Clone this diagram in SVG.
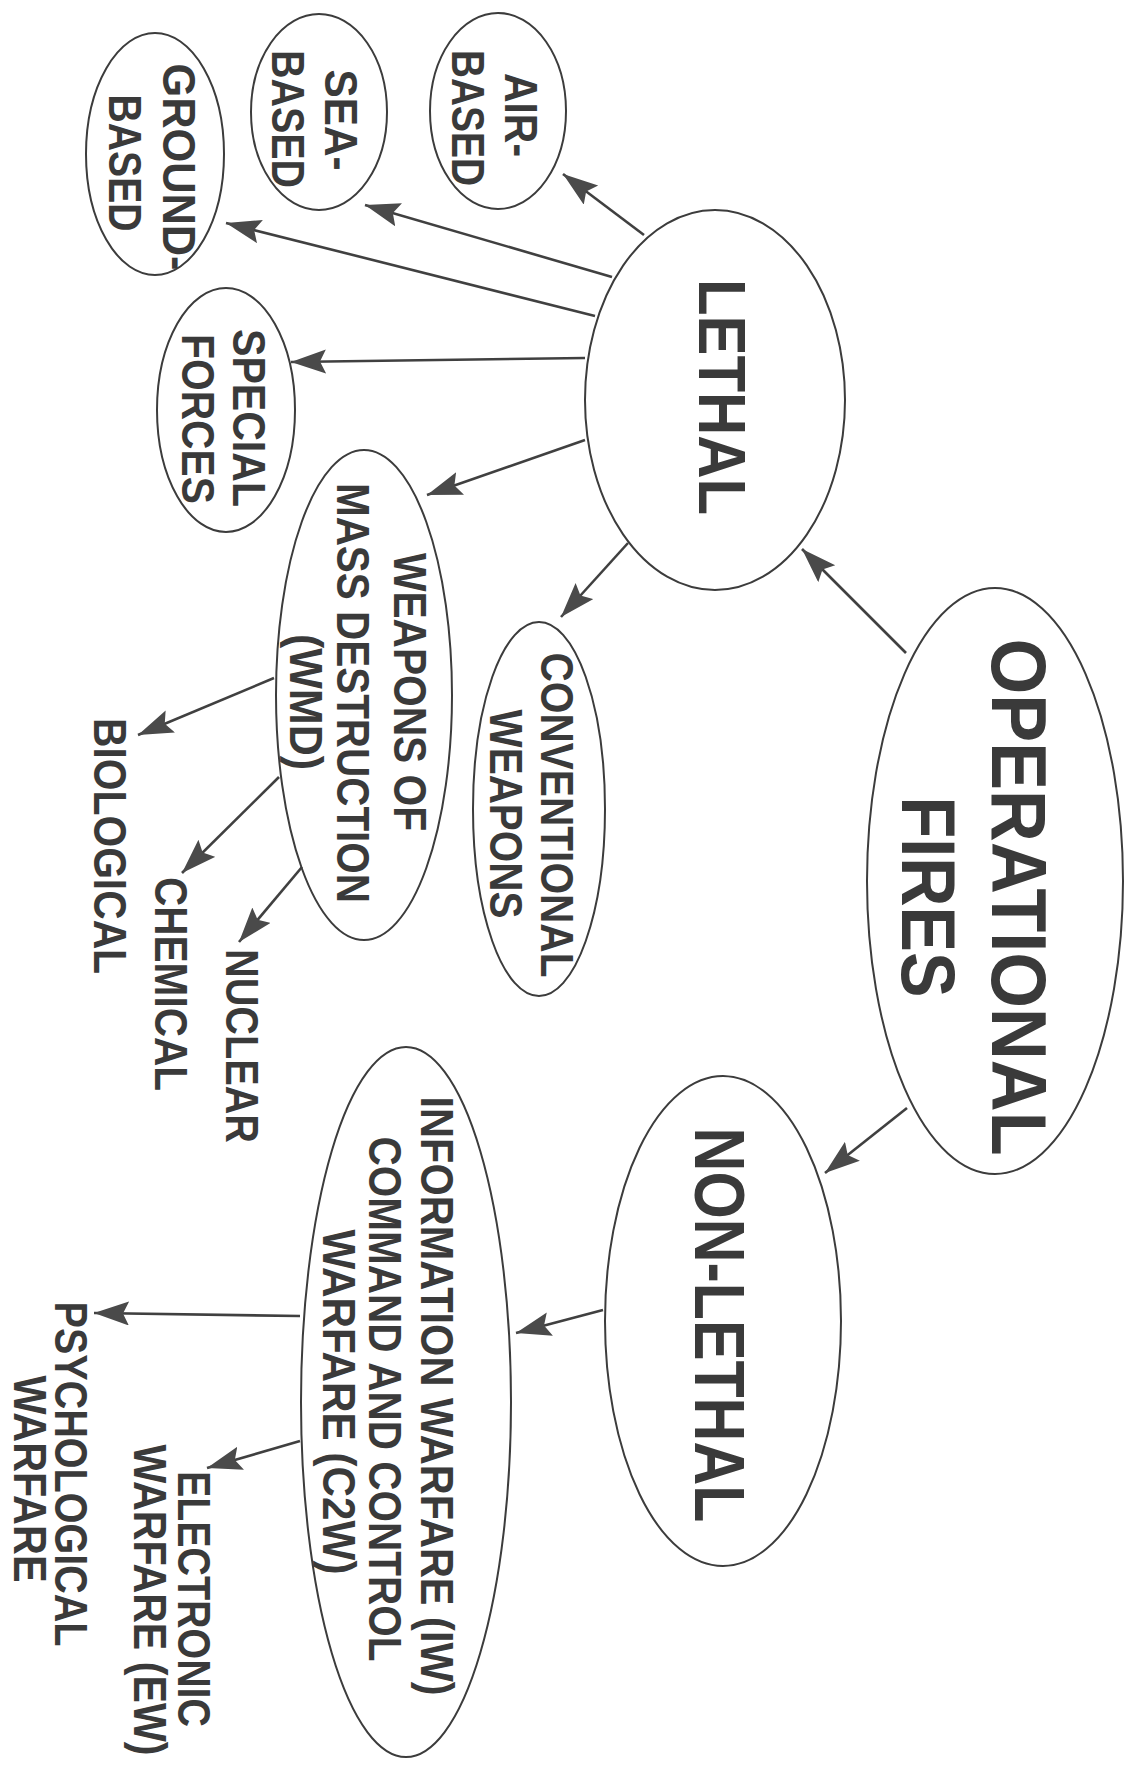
<svg xmlns="http://www.w3.org/2000/svg" width="1136" height="1773" viewBox="0 0 1136 1773">
<defs>
<style>
.n{fill:none;stroke:#3c3c3c;stroke-width:2}
.t{font-family:"Liberation Sans",Arial,sans-serif;font-weight:bold;fill:#3a3a3a;text-anchor:middle}
.s{font-size:46px}
.c{stroke:#404040;stroke-width:2.6;fill:none;marker-end:url(#ah)}
</style>
<marker id="ah" markerUnits="userSpaceOnUse" markerWidth="38" markerHeight="26" refX="35" refY="12" orient="auto">
<path d="M0,0 L35,12 L0,24 L6,12 Z" fill="#4a4a4a"/>
</marker>
</defs>
<rect width="1136" height="1773" fill="#ffffff"/>
<g id="connectors">
<line class="c" x1="644" y1="235" x2="563" y2="174"/>
<line class="c" x1="612" y1="277" x2="365" y2="205"/>
<line class="c" x1="595" y1="316" x2="226" y2="223"/>
<line class="c" x1="585" y1="358" x2="291" y2="362"/>
<line class="c" x1="585" y1="440" x2="427" y2="495"/>
<line class="c" x1="628" y1="543" x2="561" y2="617"/>
<line class="c" x1="906" y1="653" x2="802" y2="549"/>
<line class="c" x1="907" y1="1108" x2="825" y2="1173"/>
<line class="c" x1="603" y1="1310" x2="516" y2="1333"/>
<line class="c" x1="274" y1="678" x2="138" y2="735"/>
<line class="c" x1="279" y1="777" x2="182" y2="873"/>
<line class="c" x1="302" y1="867" x2="239" y2="942"/>
<line class="c" x1="300" y1="1316" x2="94" y2="1313"/>
<line class="c" x1="300" y1="1441" x2="207" y2="1468"/>
</g>
<g id="operational-fires">
<ellipse class="n" cx="995" cy="881" rx="128" ry="293"/>
<text class="t" font-size="78" textLength="517" lengthAdjust="spacingAndGlyphs" transform="translate(992,897) rotate(90)">OPERATIONAL</text>
<text class="t" font-size="76" textLength="201" lengthAdjust="spacingAndGlyphs" transform="translate(902,897) rotate(90)">FIRES</text>
</g>
<g id="lethal">
<ellipse class="n" cx="715" cy="400" rx="130" ry="190"/>
<text class="t" font-size="67" textLength="236" lengthAdjust="spacingAndGlyphs" transform="translate(699,397) rotate(90)">LETHAL</text>
</g>
<g id="non-lethal">
<ellipse class="n" cx="723" cy="1321" rx="118" ry="245"/>
<text class="t" font-size="70" textLength="395" lengthAdjust="spacingAndGlyphs" transform="translate(695,1325) rotate(90)">NON-LETHAL</text>
</g>
<g id="air-based">
<ellipse class="n" cx="498" cy="111" rx="68" ry="98"/>
<text class="t s" textLength="84" lengthAdjust="spacingAndGlyphs" transform="translate(505,115) rotate(90)">AIR-</text>
<text class="t s" textLength="136" lengthAdjust="spacingAndGlyphs" transform="translate(452,118) rotate(90)">BASED</text>
</g>
<g id="sea-based">
<ellipse class="n" cx="319" cy="112" rx="68" ry="98"/>
<text class="t s" textLength="101" lengthAdjust="spacingAndGlyphs" transform="translate(325,120) rotate(90)">SEA-</text>
<text class="t s" textLength="138" lengthAdjust="spacingAndGlyphs" transform="translate(272,119) rotate(90)">BASED</text>
</g>
<g id="ground-based">
<ellipse class="n" cx="155" cy="154" rx="69" ry="121"/>
<text class="t s" textLength="207" lengthAdjust="spacingAndGlyphs" transform="translate(163,167) rotate(90)">GROUND-</text>
<text class="t s" textLength="137" lengthAdjust="spacingAndGlyphs" transform="translate(109,163) rotate(90)">BASED</text>
</g>
<g id="special-forces">
<ellipse class="n" cx="226" cy="410" rx="69" ry="122"/>
<text class="t s" textLength="178" lengthAdjust="spacingAndGlyphs" transform="translate(233,418) rotate(90)">SPECIAL</text>
<text class="t s" textLength="170" lengthAdjust="spacingAndGlyphs" transform="translate(182,419) rotate(90)">FORCES</text>
</g>
<g id="conventional-weapons">
<ellipse class="n" cx="539" cy="809" rx="66" ry="187"/>
<text class="t s" textLength="325" lengthAdjust="spacingAndGlyphs" transform="translate(541,815) rotate(90)">CONVENTIONAL</text>
<text class="t s" textLength="209" lengthAdjust="spacingAndGlyphs" transform="translate(490,814) rotate(90)">WEAPONS</text>
</g>
<g id="wmd">
<ellipse class="n" cx="364" cy="695" rx="88" ry="245"/>
<text class="t s" textLength="278" lengthAdjust="spacingAndGlyphs" transform="translate(394,692) rotate(90)">WEAPONS OF</text>
<text class="t s" textLength="420" lengthAdjust="spacingAndGlyphs" transform="translate(337,693) rotate(90)">MASS DESTRUCTION</text>
<text class="t s" textLength="136" lengthAdjust="spacingAndGlyphs" transform="translate(290,702) rotate(90)">(WMD)</text>
</g>
<g id="biological">
<text class="t s" textLength="256" lengthAdjust="spacingAndGlyphs" transform="translate(94,846) rotate(90)">BIOLOGICAL</text>
</g>
<g id="chemical">
<text class="t s" textLength="214" lengthAdjust="spacingAndGlyphs" transform="translate(155,984) rotate(90)">CHEMICAL</text>
</g>
<g id="nuclear">
<text class="t s" textLength="194" lengthAdjust="spacingAndGlyphs" transform="translate(226,1046) rotate(90)">NUCLEAR</text>
</g>
<g id="information-warfare">
<ellipse class="n" cx="406" cy="1402" rx="105" ry="355"/>
<text class="t s" textLength="599" lengthAdjust="spacingAndGlyphs" transform="translate(421,1396) rotate(90)">INFORMATION WARFARE (IW)</text>
<text class="t s" textLength="525" lengthAdjust="spacingAndGlyphs" transform="translate(369,1399) rotate(90)">COMMAND AND CONTROL</text>
<text class="t s" textLength="345" lengthAdjust="spacingAndGlyphs" transform="translate(323,1402) rotate(90)">WARFARE (C2W)</text>
</g>
<g id="electronic-warfare">
<text class="t s" textLength="256" lengthAdjust="spacingAndGlyphs" transform="translate(178,1599) rotate(90)">ELECTRONIC</text>
<text class="t s" textLength="311" lengthAdjust="spacingAndGlyphs" transform="translate(134,1600) rotate(90)">WARFARE (EW)</text>
</g>
<g id="psychological-warfare">
<text class="t s" textLength="345" lengthAdjust="spacingAndGlyphs" transform="translate(55,1474) rotate(90)">PSYCHOLOGICAL</text>
<text class="t s" textLength="207" lengthAdjust="spacingAndGlyphs" transform="translate(14,1479) rotate(90)">WARFARE</text>
</g>
</svg>
